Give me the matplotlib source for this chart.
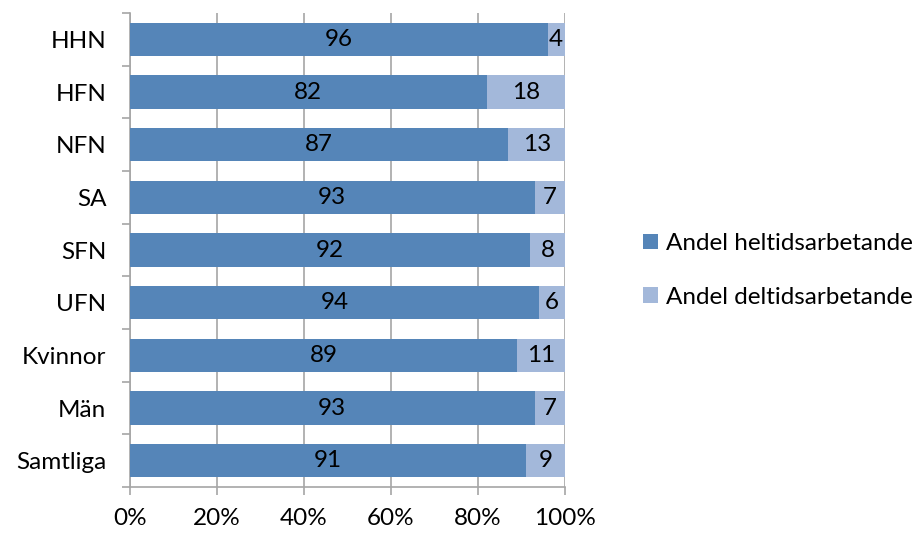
import numpy as np
import matplotlib.pyplot as plt

# data
categories = ['HHN', 'HFN', 'NFN', 'SA', 'SFN', 'UFN', 'Kvinnor', 'Män', 'Samtliga']
heltid = [96, 82, 87, 93, 92, 94, 89, 93, 91]
deltid = [4, 18, 13, 7, 8, 6, 11, 7, 9]
series_names = ['Andel heltidsarbetande', 'Andel deltidsarbetande']
x_ticks = [0, 20, 40, 60, 80, 100]

plt.rcParams['font.family'] = ['Lato', 'DejaVu Sans']
fs = 17.5

dark = '#5585B8'
light = '#A3B8DA'
grid_col = '#A6A6A6'

fig = plt.figure(figsize=(9.2, 5.33), dpi=100)
ax = fig.add_axes([0.1413, 0.0863, 0.4728, 0.8893])

y = np.arange(len(categories))
h1 = ax.barh(y, heltid, height=0.63, color=dark, label=series_names[0], zorder=3)
h2 = ax.barh(y, deltid, left=heltid, height=0.63, color=light, label=series_names[1], zorder=3)

for yi, a, b in zip(y, heltid, deltid):
    ax.text(a / 2, yi, str(a), ha='center', va='center', fontsize=fs, zorder=4)
    ax.text(a + b / 2, yi, str(b), ha='center', va='center', fontsize=fs, zorder=4)

ax.set_xlim(0, 100)
ax.set_ylim(len(categories) - 0.5, -0.5)
ax.set_xticks(x_ticks)
ax.set_xticklabels([f'{t}%' for t in x_ticks], fontsize=fs)
ax.set_yticks(y)
ax.set_yticklabels(categories, fontsize=fs)
ax.set_yticks(np.arange(-0.5, len(categories)), minor=True)

ax.tick_params(axis='y', which='major', length=0, pad=17)
ax.tick_params(axis='y', which='minor', length=6, color=grid_col, width=1.2)
ax.tick_params(axis='x', length=6, color=grid_col, width=1.2, pad=9)

ax.grid(axis='x', color=grid_col, linewidth=1.2, zorder=0)
for s in ['top', 'right']:
    ax.spines[s].set_visible(False)
for s in ['left', 'bottom']:
    ax.spines[s].set_color(grid_col)
    ax.spines[s].set_linewidth(1.2)

fig.legend(handles=[h1, h2], loc='center left', bbox_to_anchor=(0.699, 0.493),
           frameon=False, fontsize=fs, handlelength=0.6, handleheight=0.6,
           handletextpad=0.35, labelspacing=1.35, borderpad=0, borderaxespad=0)

fig.savefig('out.png', dpi=100)
